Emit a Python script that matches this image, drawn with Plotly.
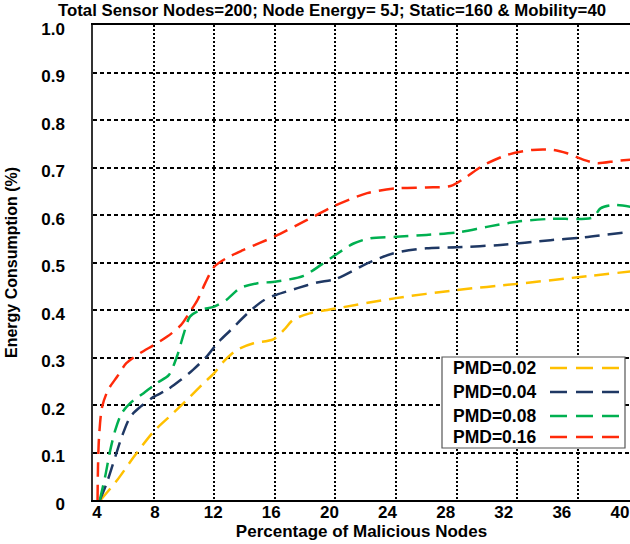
import plotly.graph_objects as go

# ---------------- data ----------------
red_x = [4.3, 4.33, 4.4, 4.6, 5.0, 5.6, 6.2, 7.1, 8.0, 8.9, 9.8, 10.4, 10.9, 11.4, 12.0, 12.8, 13.9,
         16.0, 18.1, 20.0, 22.1, 24.0, 26.0, 27.6, 28.5, 29.8, 31.3, 33.0, 34.4, 35.3, 36.4, 37.3, 38.6, 40.0]
red_y = [0.0, 0.07, 0.133, 0.196, 0.232, 0.26, 0.288, 0.309, 0.326, 0.344, 0.368, 0.396, 0.421, 0.456,
         0.491, 0.509, 0.526, 0.555, 0.589, 0.62, 0.646, 0.656, 0.658, 0.661, 0.677, 0.705, 0.726, 0.737,
         0.737, 0.73, 0.716, 0.709, 0.714, 0.718]

green_x = [4.45, 4.8, 5.14, 5.47, 5.9, 6.46, 7.34, 8.2, 9.0, 9.54, 10.0, 10.4, 11.1, 12.0, 12.8, 13.7,
           14.8, 16.1, 17.9, 19.1, 20.1, 21.2, 22.3, 24.0, 26.0, 28.0, 30.0, 32.0, 34.2, 37.0, 37.5, 38.4, 40.0]
green_y = [0.0, 0.049, 0.105, 0.147, 0.183, 0.204, 0.225, 0.246, 0.263, 0.302, 0.351, 0.386, 0.40, 0.407,
           0.421, 0.446, 0.456, 0.46, 0.472, 0.496, 0.518, 0.54, 0.551, 0.554, 0.558, 0.563, 0.575, 0.586,
           0.592, 0.595, 0.614, 0.621, 0.614]

blue_x = [4.45, 4.9, 5.47, 5.9, 6.46, 7.12, 8.0, 8.9, 9.8, 10.6, 11.5, 12.2, 13.1, 14.2, 15.3, 16.1,
          17.5, 18.8, 20.0, 22.1, 23.8, 26.0, 28.0, 30.9, 34.2, 36.4, 40.0]
blue_y = [0.0, 0.035, 0.091, 0.133, 0.175, 0.196, 0.217, 0.232, 0.253, 0.274, 0.302, 0.33, 0.358, 0.393,
          0.421, 0.432, 0.446, 0.458, 0.465, 0.498, 0.519, 0.53, 0.532, 0.537, 0.547, 0.553, 0.567]

yellow_x = [4.5, 5.6, 6.7, 8.0, 9.3, 10.4, 11.3, 12.0, 12.6, 13.5, 14.6, 15.9, 16.6, 17.2, 18.3, 20.0,
            24.0, 28.0, 32.0, 36.0, 40.0]
yellow_y = [0.0, 0.042, 0.091, 0.144, 0.183, 0.217, 0.246, 0.267, 0.291, 0.316, 0.33, 0.338, 0.358, 0.379,
            0.393, 0.403, 0.425, 0.442, 0.455, 0.469, 0.483]

series_names = ["PMD=0.02", "PMD=0.04", "PMD=0.08", "PMD=0.16"]
series_colors = ["#FFC000", "#1F3864", "#00B050", "#FF2A0A"]

x_ticks = [4, 8, 12, 16, 20, 24, 28, 32, 36, 40]
y_ticks = [0, 0.1, 0.2, 0.3, 0.4, 0.5, 0.6, 0.7, 0.8, 0.9, 1.0]
y_ticktext = ["0", "0.1", "0.2", "0.3", "0.4", "0.5", "0.6", "0.7", "0.8", "0.9", "1.0"]

title_text = "Total Sensor Nodes=200; Node Energy= 5J; Static=160 & Mobility=40"
x_title = "Percentage of Malicious Nodes"
y_title = "Energy Consumption (%)"

# ---------------- figure ----------------
FONT = "Liberation Sans, Arial, sans-serif"
W, H = 630, 544
ML, MR, MT, MB = 93, 0, 25, 44
PW, PH = W - ML - MR, H - MT - MB

fig = go.Figure()
all_series = [(yellow_x, yellow_y), (blue_x, blue_y), (green_x, green_y), (red_x, red_y)]
for (xs, ys), name, col in zip(all_series, series_names, series_colors):
    fig.add_trace(go.Scatter(x=xs, y=ys, name=name, mode="lines",
                             line=dict(color=col, width=2.5, dash="15px,8px", shape="spline", smoothing=0.8),
                             showlegend=False))
# empty trace so that the label axis (x2) is drawn
fig.add_trace(go.Scatter(x=[], y=[], xaxis="x2", yaxis="y", showlegend=False, hoverinfo="skip"))

fig.update_layout(
    width=W, height=H,
    margin=dict(l=ML, r=MR, t=MT, b=MB, autoexpand=False),
    paper_bgcolor="white", plot_bgcolor="white",
    font=dict(family=FONT, color="black"),
    showlegend=False,
    xaxis=dict(range=[4, 39.45], tickvals=x_ticks, showticklabels=False, ticks="", automargin=False,
               showgrid=True, gridcolor="black", gridwidth=2, griddash="2px,2px",
               showline=True, linecolor="black", linewidth=1.5, mirror=True, zeroline=False),
    xaxis2=dict(overlaying="x", anchor="y", side="bottom", range=[3.725, 40.69], automargin=False,
                tickvals=x_ticks, ticktext=[str(v) for v in x_ticks],
                showgrid=False, showline=False, zeroline=False, ticks="",
                tickfont=dict(size=17, family=FONT, weight="bold"),
                title=dict(text="<b>" + x_title + "</b>", font=dict(size=17), standoff=0)),
    yaxis=dict(range=[0, 1.0], tickvals=y_ticks, ticktext=y_ticktext, ticks="", ticklabelstandoff=23,
               ticklabelshift=4, automargin=False,
               tickfont=dict(size=17, family=FONT, weight="bold"),
               showgrid=True, gridcolor="black", gridwidth=1.5, griddash="4px,3px",
               showline=True, linecolor="#333333", linewidth=1.5, zeroline=False,
               title=dict(text="<b>" + y_title + "</b>", font=dict(size=16), standoff=20)),
)

fig.add_annotation(text="<b>" + title_text + "</b>", xref="paper", yref="paper",
                   x=(332 - ML) / PW, y=(MT - 11 + PH) / PH, xanchor="center", yanchor="middle",
                   showarrow=False, font=dict(size=16.8, family=FONT))

# custom legend (text left, line sample right)
def px_x(p):
    return (p - ML) / PW

def px_y(p):
    return (MT + PH - p) / PH

fig.add_shape(type="rect", xref="paper", yref="paper", x0=px_x(442), x1=px_x(625),
              y0=px_y(448), y1=px_y(357), line=dict(color="#555555", width=1.2),
              fillcolor="white", layer="above")
legend_rows = [368, 392, 416, 437]
for name, col, ry in zip(series_names, series_colors, legend_rows):
    fig.add_annotation(text="<b>" + name + "</b>", xref="paper", yref="paper", x=px_x(451), y=px_y(ry),
                       xanchor="left", yanchor="middle", showarrow=False, font=dict(size=17.5, family=FONT))
    fig.add_shape(type="line", xref="paper", yref="paper", x0=px_x(550), x1=px_x(619),
                  y0=px_y(ry), y1=px_y(ry), line=dict(color=col, width=2.5, dash="17px,9px"), layer="above")

fig.write_html("out.html", config={"displayModeBar": False},
               post_script="document.body.style.margin='0px';")
